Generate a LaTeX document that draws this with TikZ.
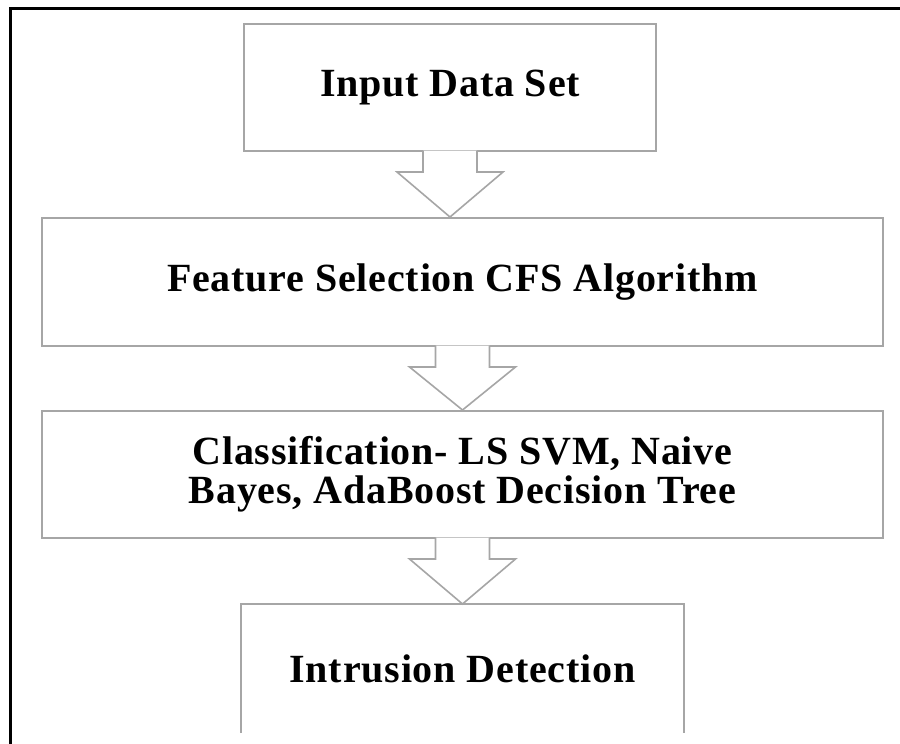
\documentclass[tikz,border=0pt]{standalone}
\usepackage{fontspec}
\setmainfont{Liberation Serif}[LetterSpace=2]
\usetikzlibrary{calc}

\definecolor{boxgray}{HTML}{A6A6A6}

\tikzset{
    stagebox/.style={draw=boxgray, line width=2pt, align=center, inner sep=0pt,
        font=\bfseries\fontsize{40}{39}\selectfont},
    flowarrow/.style={draw=boxgray, line width=1.6pt, fill=white, line join=miter},
}

% hollow block arrow from the bottom of one box to the top of the next
\newcommand{\blockarrow}[2]{%
    \filldraw[flowarrow] ($(#1.south)+(-27,-1.5)$) -- ($(#1.south)+(-27,20)$)
        -- ($(#1.south)+(-53,20)$) -- (#1.south |- #2.north)
        -- ($(#1.south)+(53,20)$) -- ($(#1.south)+(27,20)$)
        -- ($(#1.south)+(27,-1.5)$);
}

\begin{document}
\begin{tikzpicture}[x=1pt, y=-1pt]
    \useasboundingbox (0,0) rectangle (900,744);

    % Moldura externa
    \draw[line width=3pt] (10,744) -- (10,8) -- (900,8);

    % Etapas
    \node[stagebox, minimum width=412pt, minimum height=127pt] (input) at (450,87.5) {Input Data Set};
    \node[stagebox, minimum width=841pt, minimum height=128pt] (cfs) at (462.5,282) {Feature Selection CFS Algorithm};
    \node[stagebox, minimum width=841pt, minimum height=127pt] (classify) at (462.5,474.5)
        {Classification- LS SVM, Naive\\Bayes, AdaBoost Decision Tree};

    % Última etapa (cortada embaixo)
    \node[stagebox, draw=none, minimum width=441pt, minimum height=127pt] (detect) at (462.5,668.5) {Intrusion Detection};
    \draw[boxgray, line width=2pt] (detect.south west) -- (detect.north west)
        -- (detect.north east) -- (detect.south east);

    % Setas
    \blockarrow{input}{cfs}
    \blockarrow{cfs}{classify}
    \blockarrow{classify}{detect}
\end{tikzpicture}
\end{document}
